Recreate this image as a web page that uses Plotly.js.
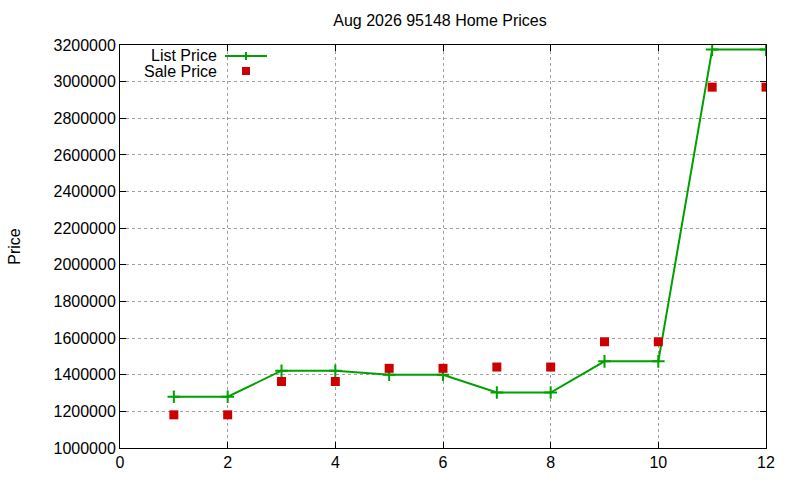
<!DOCTYPE html>
<html>
<head>
<meta charset="utf-8">
<script src="https://cdn.plot.ly/plotly-3.0.1.min.js"></script>
<style>
  html, body { margin: 0; padding: 0; background: #fff; }
  #plot { width: 800px; height: 480px; }
</style>
</head>
<body>
<div id="plot"></div>
<script>
// months of the period and the prices
const months = [1, 2, 3, 4, 5, 6, 7, 8, 9, 10, 11, 12]
const listPrice = [1280000, 1280000, 1422000, 1422000, 1400000, 1400000, 1303000, 1303000, 1473000, 1473000, 3175000, 3175000]
const salePrice = [1181000, 1181000, 1363000, 1363000, 1435000, 1435000, 1442000, 1442000, 1580000, 1580000, 2970000, 2970000]
const seriesNames = ['List Price', 'Sale Price']
const xTicks = [0, 2, 4, 6, 8, 10, 12]
const yTicks = [1000000, 1200000, 1400000, 1600000, 1800000, 2000000, 2200000, 2400000, 2600000, 2800000, 3000000, 3200000]

const green = '#00a000'
const red = '#cc0000'
const font = 'Liberation Sans, Arial, sans-serif'
const fs = 16

// plot box in pixels, used to place the hand-made legend
const L = 120, R = 766, T = 45, B = 448
function px(x) { return (x - L) / (R - L) }
function py(y) { return (B - y) / (B - T) }

const traceList = {
	x: months,
	y: listPrice,
	name: seriesNames[0],
	type: 'scatter',
	mode: 'lines+markers',
	line: {color: green, width: 2},
	marker: {symbol: 'cross-thin', size: 9, line: {color: green, width: 2}},
	showlegend: false
}
const traceSale = {
	x: months,
	y: salePrice,
	name: seriesNames[1],
	type: 'scatter',
	mode: 'markers',
	marker: {symbol: 'square', size: 9, color: red},
	showlegend: false
}

const axisCommon = {
	showline: true,
	linecolor: '#000',
	linewidth: 1,
	mirror: 'allticks',
	ticks: 'inside',
	ticklen: 6,
	tickcolor: '#000',
	showgrid: true,
	gridcolor: '#a0a0a0',
	griddash: 'dot',
	gridwidth: 1,
	zeroline: false,
	tickfont: {family: font, size: fs, color: '#000'}
}

const layout = {
	width: 800,
	height: 480,
	margin: {l: L, r: 800 - R, t: T, b: 480 - B},
	paper_bgcolor: '#fff',
	plot_bgcolor: '#fff',
	title: {text: 'Aug 2026 95148 Home Prices', font: {family: font, size: fs, color: '#000'}, x: 0.55, xanchor: 'center', y: 0.958, yanchor: 'middle'},
	xaxis: Object.assign({}, axisCommon, {range: [0, 12], tickvals: xTicks, ticktext: xTicks.map(String)}),
	yaxis: Object.assign({}, axisCommon, {
		range: [1000000, 3200000],
		tickvals: yTicks,
		ticktext: yTicks.map(String),
		title: {text: 'Price', font: {family: font, size: fs, color: '#000'}, standoff: 28}
	}),
	annotations: [
		{xref: 'paper', yref: 'paper', x: px(219), y: py(55), xanchor: 'right', yanchor: 'middle', text: seriesNames[0], showarrow: false, font: {family: font, size: fs, color: '#000'}},
		{xref: 'paper', yref: 'paper', x: px(219), y: py(71), xanchor: 'right', yanchor: 'middle', text: seriesNames[1], showarrow: false, font: {family: font, size: fs, color: '#000'}}
	],
	shapes: [
		{type: 'line', xref: 'paper', yref: 'paper', x0: px(225), x1: px(267), y0: py(56), y1: py(56), line: {color: green, width: 2}},
		{type: 'line', xref: 'paper', yref: 'paper', x0: px(246), x1: px(246), y0: py(52), y1: py(60), line: {color: green, width: 2}},
		{type: 'rect', xref: 'paper', yref: 'paper', x0: px(242), x1: px(250), y0: py(67), y1: py(75), fillcolor: red, line: {width: 0}}
	]
}

try {
	Plotly.newPlot('plot', [traceList, traceSale], layout, {staticPlot: true})
} catch (err) {
	console.log(err)
}
</script>
</body>
</html>
